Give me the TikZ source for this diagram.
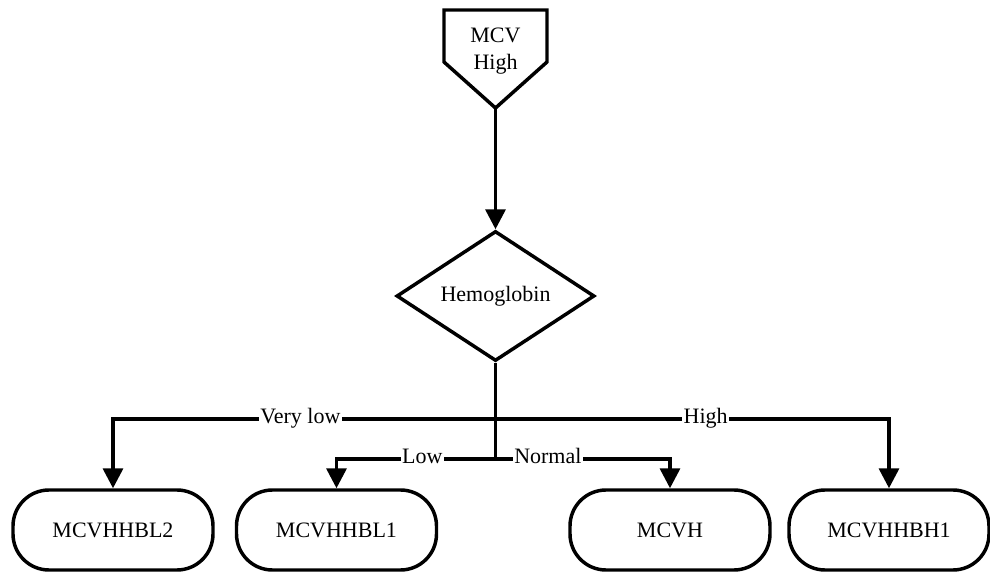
\documentclass[tikz,border=0pt]{standalone}
\usepackage{fontspec}
\setmainfont{Liberation Serif}
\usetikzlibrary{shapes.geometric,arrows.meta,calc}
\begin{document}
\begin{tikzpicture}[x=0.75pt,y=-0.75pt,
  every node/.style={font=\fontsize{16.5}{20}\selectfont},
  conn/.style={line width=2.6pt},
  arr/.style={conn,-{Triangle[width=15pt,length=15pt]}},
  leaf/.style={draw,line width=2.6pt,rounded corners=27pt,minimum width=150pt,minimum height=60pt},
  decision/.style={draw,diamond,line width=2.6pt,minimum width=148.5pt,minimum height=91.5pt,inner sep=0pt},
  tag/.style={fill=white,inner sep=1.2pt,anchor=base,yshift=-0.33em}
]
\useasboundingbox (0,0) rectangle (990,573);

% start block: pentagon pointing down
\node[inner sep=0pt,outer sep=0pt,minimum width=77.25pt,minimum height=73.5pt] (mcv) at (495.5,59) {};
\draw[conn,line join=miter] (mcv.north west) -- (mcv.north east) -- ($(mcv.east)+(0,3)$)
  -- (mcv.south) -- ($(mcv.west)+(0,3)$) -- cycle;
\node[align=center] (mcvtext) at (495.5,51) {MCV\\High};

% decision
\node[decision] (hb) at (495.5,296) {Hemoglobin};

% outcomes
\node[leaf] (l2) at (113,530) {MCVHHBL2};
\node[leaf] (l1) at (336.5,530) {MCVHHBL1};
\node[leaf] (mh) at (670,530) {MCVH};
\node[leaf] (h1) at (889,530) {MCVHHBH1};

% connectors
\coordinate (split) at (495.5,419);
\coordinate (fork) at (495.5,459);
\draw[arr] (mcv.south) -- (hb.north);
\draw[conn] (hb.south) -- (fork);
\draw[arr] (split) -| node[tag,pos=0.255] {Very low} (l2.north);
\draw[arr] (split) -| node[tag,pos=0.267] {High} (h1.north);
\draw[arr] (fork) -| node[tag,pos=0.23] {Low} (l1.north);
\draw[arr] (fork) -| node[tag,pos=0.15] {Normal} (mh.north);
\end{tikzpicture}
\end{document}
